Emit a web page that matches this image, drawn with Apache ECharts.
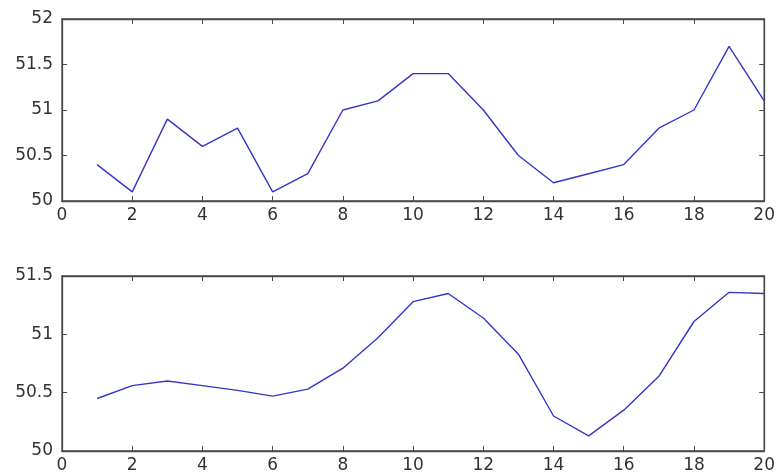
<!DOCTYPE html>
<html><head><meta charset="utf-8">
<script src="https://cdn.jsdelivr.net/npm/echarts@6/dist/echarts.min.js"></script>
<style>html,body{margin:0;padding:0;background:#fff}#c{width:778px;height:474px}</style>
</head><body><div id="c"></div>
<script>
var xValues = [1,2,3,4,5,6,7,8,9,10,11,12,13,14,15,16,17,18,19,20];
var topValues = [50.4,50.1,50.9,50.6,50.8,50.1,50.3,51.0,51.1,51.4,51.4,51.0,50.5,50.2,50.3,50.4,50.8,51.0,51.7,51.1];
var bottomValues = [50.45,50.56,50.60,50.56,50.52,50.47,50.53,50.71,50.97,51.28,51.35,51.14,50.83,50.30,50.13,50.35,50.64,51.11,51.36,51.35];

var axisColor = '#4a4a4a';
var labelStyle = {color:'#333', fontFamily:'DejaVu Sans', fontSize:17};
function xAx(grid, pos, show){
  return {type:'value', gridIndex:grid, position:pos, min:0, max:20, interval:2,
    axisLine:{show:true, onZero:false, lineStyle:{color:axisColor, width:1.3}},
    axisTick:{show:true, inside:true, length:5, lineStyle:{color:axisColor}},
    axisLabel:Object.assign({show:show, margin:6}, labelStyle),
    splitLine:{show:false}};
}
function yAx(grid, pos, show, min, max){
  return {type:'value', gridIndex:grid, position:pos, min:min, max:max, interval:0.5,
    axisLine:{show:true, onZero:false, lineStyle:{color:axisColor, width:1.3}},
    axisTick:{show:true, inside:true, length:5, lineStyle:{color:axisColor}},
    axisLabel:Object.assign({show:show, margin:9, formatter:function(v){return String(+v.toFixed(1));}}, labelStyle),
    splitLine:{show:false}};
}
function pairs(ys){ return xValues.map(function(x,i){return [x, ys[i]];}); }
var chart = echarts.init(document.getElementById('c'));
chart.setOption({
  animation:false,
  backgroundColor:'#fff',
  grid:[{left:62, top:19, width:706, height:182, show:true, borderColor:axisColor, borderWidth:1.3, backgroundColor:'transparent'},
        {left:62, top:276, width:706, height:177, show:true, borderColor:axisColor, borderWidth:1.3, backgroundColor:'transparent'}],
  xAxis:[xAx(0,'bottom',true), xAx(0,'top',false), xAx(1,'bottom',true), xAx(1,'top',false)],
  yAxis:[yAx(0,'left',true,50,52), yAx(0,'right',false,50,52), yAx(1,'left',true,50,51.5), yAx(1,'right',false,50,51.5)],
  series:[
    {type:'line', xAxisIndex:0, yAxisIndex:0, data:pairs(topValues), showSymbol:false, lineStyle:{color:'#3636c4', width:1.4}},
    {type:'line', xAxisIndex:2, yAxisIndex:2, data:pairs(bottomValues), showSymbol:false, lineStyle:{color:'#3636c4', width:1.4}}
  ]
});
</script></body></html>
